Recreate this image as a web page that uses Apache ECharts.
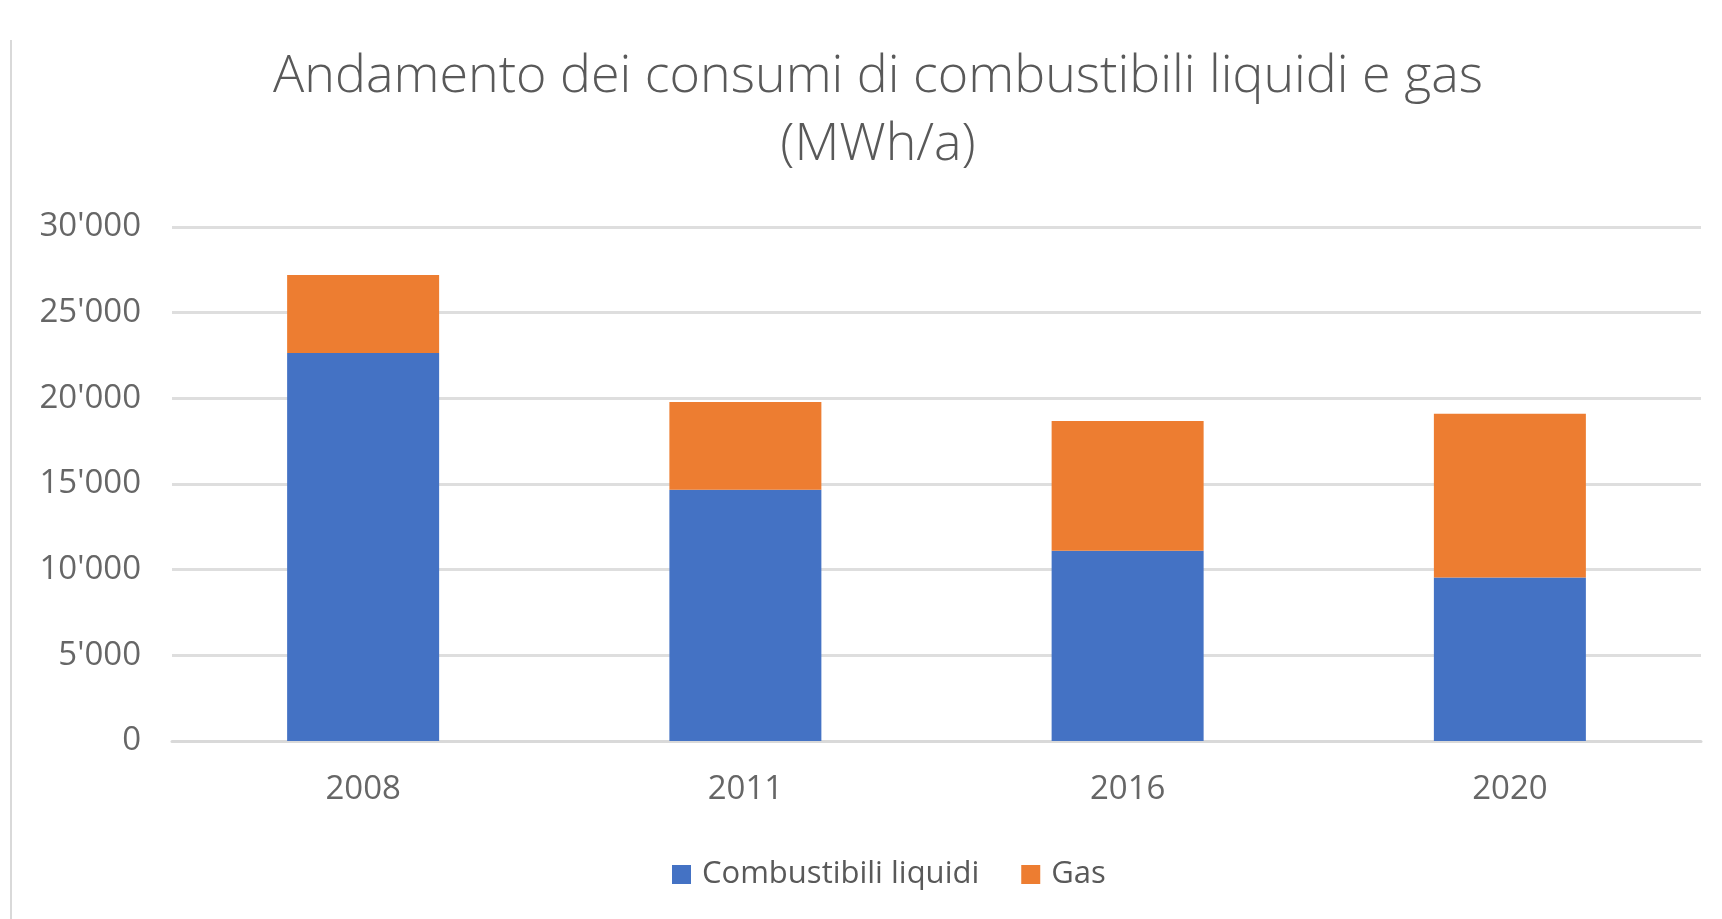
<!DOCTYPE html>
<html>
<head>
<meta charset="utf-8">
<script src="https://cdn.jsdelivr.net/npm/echarts@6/dist/echarts.min.js"></script>
<style>
  html, body { margin: 0; padding: 0; background: #fff; }
  #chart { width: 1722px; height: 919px; }
</style>
</head>
<body>
<div id="chart"></div>
<script>
const titleText = 'Andamento dei consumi di combustibili liquidi e gas\n(MWh/a)';
const categories = ['2008', '2011', '2016', '2020'];
const liquidi = [22650, 14670, 11100, 9550];
const gas = [4550, 5110, 7570, 9550];
const seriesNames = ['Combustibili liquidi', 'Gas'];
const yTicks = { min: 0, max: 30000, interval: 5000 };

function fmt(v) {
  return String(v).replace(/\B(?=(\d{3})+(?!\d))/g, "'");
}

const chart = echarts.init(document.getElementById('chart'), null, { renderer: 'canvas' });
const fontFam = '"Open Sans", "Noto Sans", sans-serif';
chart.setOption({
  animation: false,
  textStyle: { fontFamily: fontFam },
  graphic: [
    { type: 'rect', shape: { x: 10, y: 40, width: 2, height: 879 }, style: { fill: '#d9d9d9' } },
    { type: 'text', x: 878, y: 43, style: { text: titleText, fill: '#595959', font: '300 52px ' + fontFam, textAlign: 'center', textVerticalAlign: 'top', lineHeight: 68 } }
  ],
  grid: { left: 172, right: 21, top: 227, bottom: 178, containLabel: false },
  legend: {
    left: 667, top: 854,
    icon: 'rect', itemWidth: 19, itemHeight: 19, itemGap: 42,
    textStyle: { color: '#595959', fontSize: 31, fontFamily: fontFam, padding: [0, 0, 0, 6] },
    data: seriesNames
  },
  xAxis: {
    type: 'category', data: categories,
    axisLine: { lineStyle: { color: '#d9d9d9', width: 3 } },
    axisTick: { show: false },
    axisLabel: { color: '#666666', fontSize: 33, margin: 32, fontFamily: fontFam }
  },
  yAxis: {
    type: 'value', min: yTicks.min, max: yTicks.max, interval: yTicks.interval,
    axisLine: { show: false }, axisTick: { show: false },
    splitLine: { lineStyle: { color: '#dedede', width: 3 } },
    axisLabel: { color: '#666666', fontSize: 33, margin: 31, fontFamily: fontFam, formatter: fmt }
  },
  series: [
    { name: seriesNames[0], type: 'bar', stack: 'tot', data: liquidi, barWidth: 152, itemStyle: { color: '#4472C4' } },
    { name: seriesNames[1], type: 'bar', stack: 'tot', data: gas, barWidth: 152, itemStyle: { color: '#ED7D31' } }
  ]
});
</script>
</body>
</html>
